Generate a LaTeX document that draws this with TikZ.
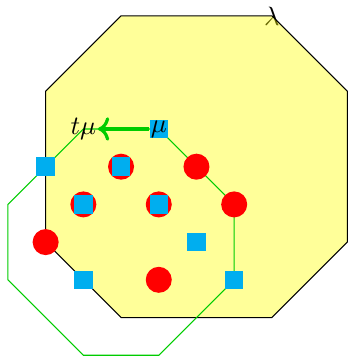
\documentclass[tikz,border=0pt]{standalone}
\usetikzlibrary{arrows.meta}
\definecolor{hullFill}{RGB}{255,255,0}
\definecolor{orbitStroke}{RGB}{0,204,0}
\definecolor{wtRed}{RGB}{255,0,0}
\definecolor{wtCyan}{RGB}{0,174,239}
\tikzset{
  hull/.style = {draw=black, fill=hullFill, fill opacity=0.4},
  orbit/.style = {draw=orbitStroke, thin},
  dotwt/.style = {circle, fill=wtRed, minimum size=3.45mm, inner sep=0pt},
  sqwt/.style = {rectangle, fill=wtCyan, minimum size=2.45mm, inner sep=0pt},
  wlbl/.style = {inner sep=0.5pt},
  shiftarr/.style = {->, very thick, draw=orbitStroke},
}
\begin{document}
\begin{tikzpicture}[x=5mm, y=5mm]
\useasboundingbox (-5.21,-5.02) rectangle (4.02,4.42);

\node[wlbl] (lam) at (2,4) {$\lambda$};
\draw[hull] (2,4) -- (4,2) -- (4,-2) -- (2,-4) -- (-2,-4) -- (-4,-2) -- (-4,2) -- (-2,4) -- cycle;
\draw[orbit] (-1,1) -- (1,-1) -- (1,-3) -- (-1,-5) -- (-3,-5) -- (-5,-3) -- (-5,-1) -- (-3,1) -- cycle;

\node[dotwt] (r1) at (-2,0)  {};
\node[dotwt] (r2) at (0,0)   {};
\node[dotwt] (r3) at (-3,-1) {};
\node[dotwt] (r4) at (-1,-1) {};
\node[dotwt] (r5) at (1,-1)  {};
\node[dotwt] (r6) at (-4,-2) {};
\node[dotwt] (r7) at (-1,-3) {};

\node[sqwt] (s1) at (-1,1)  {};
\node[sqwt] (s2) at (-4,0)  {};
\node[sqwt] (s3) at (-2,0)  {};
\node[sqwt] (s4) at (-3,-1) {};
\node[sqwt] (s5) at (-1,-1) {};
\node[sqwt] (s6) at (0,-2)  {};
\node[sqwt] (s7) at (-3,-3) {};
\node[sqwt] (s8) at (1,-3)  {};

\node[wlbl] (mu)  at (-1,1) {$\mu$};
\node[wlbl] (tmu) at (-3,1) {$t\mu$};

\draw[shiftarr] (s1.west) -- (tmu.east);

\end{tikzpicture}
\end{document}
